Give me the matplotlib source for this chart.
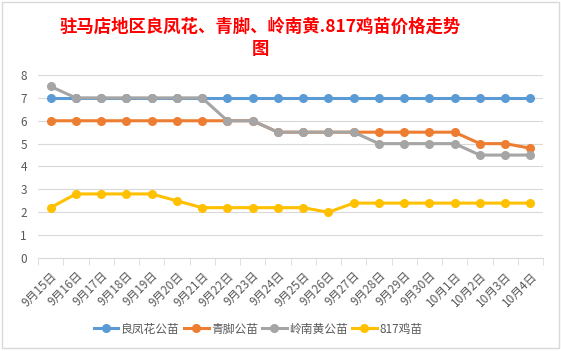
import matplotlib.pyplot as plt
import matplotlib.patches as patches
import numpy as np

plt.rcParams['font.family'] = ['Noto Sans CJK SC', 'DejaVu Sans']

# dates on the x axis
dates = ['9月15日', '9月16日', '9月17日', '9月18日', '9月19日', '9月20日', '9月21日',
         '9月22日', '9月23日', '9月24日', '9月25日', '9月26日', '9月27日', '9月28日',
         '9月29日', '9月30日', '10月1日', '10月2日', '10月3日', '10月4日']

# prices per series
liangfenghua = [7, 7, 7, 7, 7, 7, 7, 7, 7, 7, 7, 7, 7, 7, 7, 7, 7, 7, 7, 7]
qingjiao = [6, 6, 6, 6, 6, 6, 6, 6, 6, 5.5, 5.5, 5.5, 5.5, 5.5, 5.5, 5.5, 5.5, 5, 5, 4.8]
lingnanhuang = [7.5, 7, 7, 7, 7, 7, 7, 6, 6, 5.5, 5.5, 5.5, 5.5, 5, 5, 5, 5, 4.5, 4.5, 4.5]
chick817 = [2.2, 2.8, 2.8, 2.8, 2.8, 2.5, 2.2, 2.2, 2.2, 2.2, 2.2, 2.0, 2.4, 2.4, 2.4, 2.4, 2.4, 2.4, 2.4, 2.4]

names = ['良凤花公苗', '青脚公苗', '岭南黄公苗', '817鸡苗']
colors = ['#5B9BD5', '#ED7D31', '#A5A5A5', '#FFC000']
series = [liangfenghua, qingjiao, lingnanhuang, chick817]

fig = plt.figure(figsize=(5.61, 3.51), dpi=100)
ax = fig.add_axes([38 / 561, 93 / 351, 505 / 561, 183 / 351])

# chart border
fig.patches.append(patches.Rectangle((2 / 561, 3 / 351), 557 / 561, 346 / 351,
                                     transform=fig.transFigure, fill=False,
                                     edgecolor='#d9d9d9', linewidth=1))

x = np.arange(len(dates))
for vals, name, c in zip(series, names, colors):
    ax.plot(x, vals, color=c, linewidth=2.2, marker='o', markersize=5.5, label=name)

ax.set_xlim(-0.5, len(dates) - 0.5)
ax.set_ylim(0, 8)
ax.set_yticks(np.arange(0, 9, 1))
ax.yaxis.grid(True, color='#d9d9d9', linewidth=0.8)
ax.set_axisbelow(True)
for s in ['top', 'right', 'left']:
    ax.spines[s].set_visible(False)
ax.spines['bottom'].set_color('#d9d9d9')
ax.spines['bottom'].set_zorder(0)

ax.set_xticks(x)
ax.set_xticklabels(dates, rotation=45, ha='right', rotation_mode='anchor',
                   fontsize=8.5, color='#595959')
ax.set_xticks(np.arange(-0.5, len(dates), 1), minor=True)
ax.tick_params(axis='x', which='major', length=0, pad=8)
ax.tick_params(axis='x', which='minor', length=5, color='#d9d9d9')
ax.tick_params(axis='y', length=0, labelsize=8.5, labelcolor='#595959', pad=8)

title_x = 260 / 561
fig.text(title_x, 0.924, '驻马店地区良凤花、青脚、岭南黄.817鸡苗价格走势', ha='center', va='center',
         color='red', fontsize=12.5, fontweight='bold')
fig.text(title_x, 0.86, '图', ha='center', va='center', color='red', fontsize=12.5, fontweight='bold')

fig.legend(loc='center', bbox_to_anchor=(258 / 561, 22 / 351), ncol=4, frameon=False,
           fontsize=8.5, labelcolor='#595959', handlelength=2.1, handletextpad=0.2,
           columnspacing=0.35)

fig.savefig('out.png', dpi=100)
